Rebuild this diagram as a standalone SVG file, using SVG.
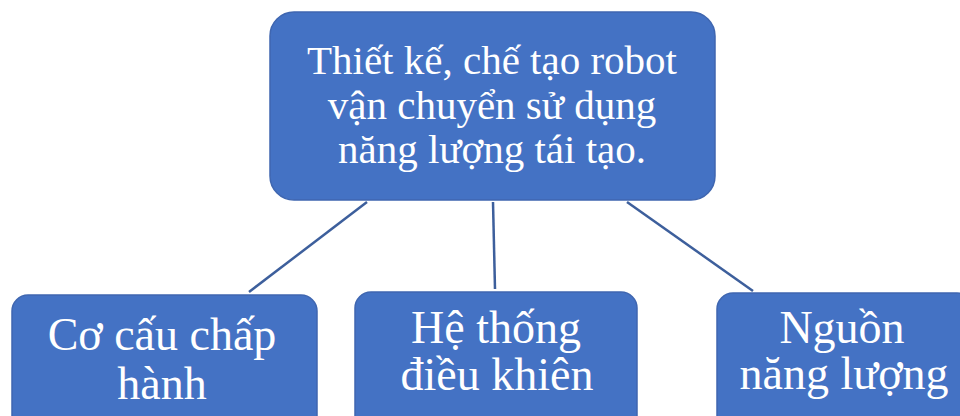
<svg xmlns="http://www.w3.org/2000/svg" width="960" height="416" viewBox="0 0 960 416">
<style>
.box{fill:#4472c4;stroke:#3f66b0;stroke-width:1.5}
.t{font-family:"Liberation Serif","Times New Roman",serif;fill:#ffffff;text-anchor:middle}
.top{font-size:41px}
.sub{font-size:46px}
.c{stroke:#3d5f9c;stroke-width:2.5;fill:none}
</style>
<rect width="960" height="416" fill="#ffffff"/>
<g id="connectors">
<line class="c" x1="367" y1="202" x2="249" y2="292"/>
<line class="c" x1="493" y1="202" x2="495" y2="289"/>
<line class="c" x1="627" y1="202" x2="753" y2="291"/>
</g>
<g id="node-root">
<rect class="box" x="270" y="12" width="445" height="188" rx="24"/>
<text class="t top" x="492" y="74">Thiết kế, chế tạo robot</text>
<text class="t top" x="492" y="118.5">vận chuyển sử dụng</text>
<text class="t top" x="492" y="163">năng lượng tái tạo.</text>
</g>
<g id="node-co-cau">
<rect class="box" x="12" y="295" width="305" height="140" rx="16"/>
<text class="t sub" x="162" y="350">Cơ cấu chấp</text>
<text class="t sub" x="162" y="399">hành</text>
</g>
<g id="node-he-thong">
<rect class="box" x="355" y="292" width="282" height="140" rx="16"/>
<text class="t sub" x="496" y="343">Hệ thống</text>
<text class="t sub" x="497" y="390">điều khiên</text>
</g>
<g id="node-nguon">
<rect class="box" x="717" y="293" width="256" height="140" rx="16"/>
<text class="t sub" x="842" y="343">Nguồn</text>
<text class="t sub" x="844" y="389">năng lượng</text>
</g>
</svg>
